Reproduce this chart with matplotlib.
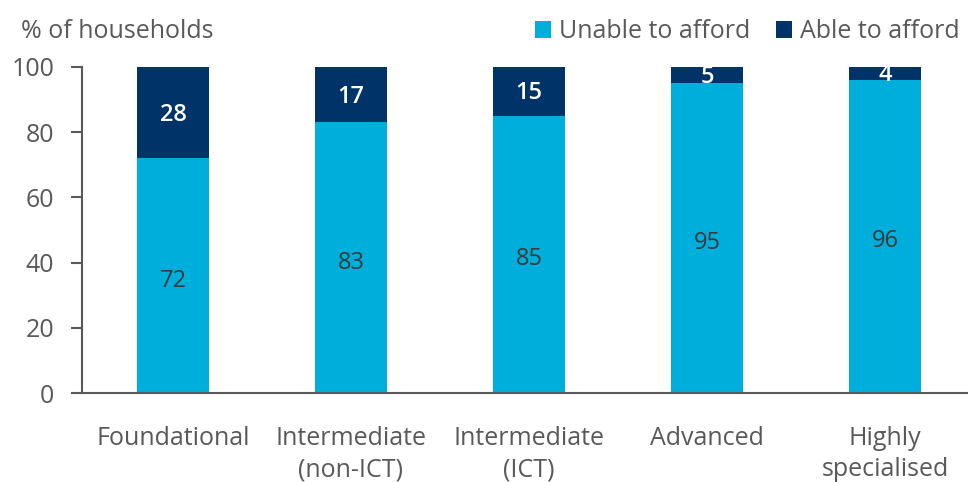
import numpy as np
import matplotlib.pyplot as plt

plt.rcParams['font.family'] = ['Open Sans', 'DejaVu Sans']

# Data
categories = ['Foundational', 'Intermediate\n(non-ICT)', 'Intermediate\n(ICT)', 'Advanced', 'Highly\nspecialised']
unable = [72, 83, 85, 95, 96]
able = [28, 17, 15, 5, 4]

light = '#00AEDB'
dark = '#003469'
grey = '#595959'
fs = 18

fig = plt.figure(figsize=(9.68, 4.82), dpi=100)
ax = fig.add_axes([0.0847, 0.1846, 0.9153, 0.6764])

x = np.arange(len(categories))
w = 0.405
ax.bar(x, unable, width=w, color=light, label='Unable to afford')
ax.bar(x, able, width=w, bottom=unable, color=dark, label='Able to afford')

for i in range(len(x)):
    ax.text(x[i], unable[i] / 2 - 1.5, str(unable[i]), ha='center', va='center',
            fontsize=fs - 1, color='#3a3a3a')
    ax.text(x[i], unable[i] + able[i] / 2 - 0.6, str(able[i]), ha='center', va='center',
            fontsize=fs - 1, color='white', fontweight='semibold')

ax.set_xlim(-0.511, 4.466)
ax.set_ylim(0, 100)
ax.set_yticks(range(0, 101, 20))
ax.set_xticks(x)
ax.set_xticklabels(categories, fontsize=fs, color=grey, linespacing=1.3)
ax.tick_params(axis='x', length=0, pad=24)
ax.tick_params(axis='y', labelsize=fs, labelcolor=grey, color=grey, length=8, width=1.5, pad=12)
for s in ['top', 'right']:
    ax.spines[s].set_visible(False)
ax.spines['left'].set_color(grey)
ax.spines['left'].set_linewidth(1.5)
ax.spines['bottom'].set_color(grey)
ax.spines['bottom'].set_linewidth(1.5)

fig.text(0.022, 0.934, '% of households', fontsize=fs, color=grey, va='center')
ax.legend(loc='center right', bbox_to_anchor=(0.9905, 1.108), ncol=2, frameon=False,
          fontsize=fs, labelcolor=grey, handlelength=0.65, handleheight=0.65,
          handletextpad=0.3, columnspacing=1.05, borderaxespad=0, borderpad=0)

fig.savefig('out.png', dpi=100)
